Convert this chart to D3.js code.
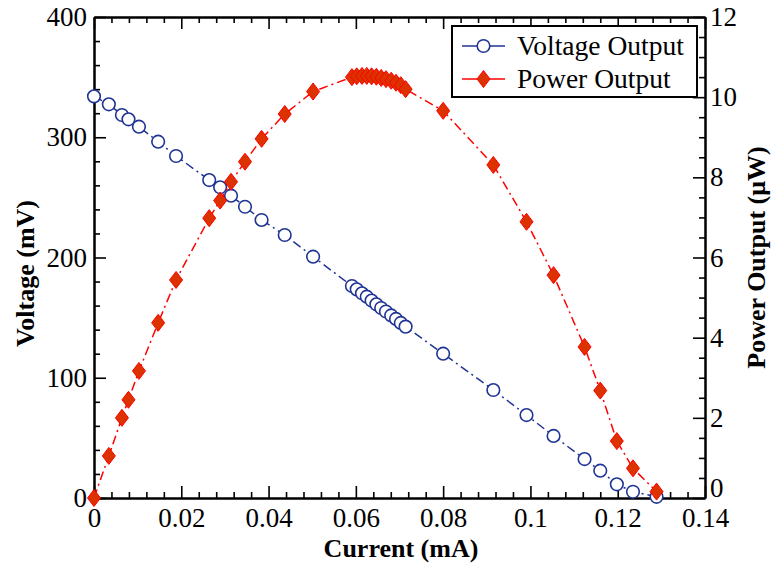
<!DOCTYPE html>
<html>
<head>
<meta charset="utf-8">
<script src="https://cdn.jsdelivr.net/npm/d3@7"></script>
<style>
  html, body { margin: 0; padding: 0; background: #fff; }
  svg { display: block; }
  svg text { font-family: "Liberation Serif", "Times New Roman", serif; }
</style>
</head>
<body>
<svg id="chart" width="772" height="563"></svg>
<script>
// Measured load sweep: current (mA), terminal voltage (mV), delivered power (µW)
const current = [
  0, 0.0034, 0.0064, 0.0079, 0.0103, 0.0147, 0.0188, 0.0264, 0.0289, 0.0314,
  0.0346, 0.0384, 0.0437, 0.0502,
  0.0591, 0.0602, 0.0614, 0.0625, 0.0636, 0.0647, 0.0658, 0.0669, 0.0681, 0.0692, 0.0703, 0.0714,
  0.0800, 0.0915, 0.0991, 0.1053, 0.1124, 0.1160, 0.1198, 0.1235, 0.1289
];
const voltage = [
  334, 327.4, 318.5, 314.9, 308.8, 296.3, 284.4, 264.4, 258.4, 251.4,
  242.2, 231.2, 218.7, 200.7,
  176.3, 173.5, 170.2, 167.4, 164.2, 161.1, 158.0, 155.1, 151.8, 148.9, 145.6, 142.5,
  120, 89.8, 69.0, 51.6, 32.4, 22.7, 11.4, 5.2, 1.0
];
const power = [
  0, 1.05, 2.0, 2.45, 3.17, 4.37, 5.44, 6.98, 7.42, 7.89,
  8.39, 8.96, 9.58, 10.14,
  10.50, 10.52, 10.53, 10.53, 10.52, 10.51, 10.48, 10.45, 10.41, 10.36, 10.30, 10.20,
  9.66, 8.31, 6.89, 5.56, 3.77, 2.68, 1.42, 0.74, 0.16
];

const xTicks = [0, 0.02, 0.04, 0.06, 0.08, 0.1, 0.12, 0.14];
const xTickLabels = ["0", "0.02", "0.04", "0.06", "0.08", "0.1", "0.12", "0.14"];
const vTicks = [0, 100, 200, 300, 400];
const pTicks = [0, 2, 4, 6, 8, 10, 12];
const seriesNames = ["Voltage Output", "Power Output"];

const FONT = '"Liberation Serif", "Times New Roman", serif';
const TICK_FS = 27;
const margin = { top: 17, right: 67, bottom: 65, left: 94 };
const W = 772, H = 563;
const iw = W - margin.left - margin.right;
const ih = H - margin.top - margin.bottom;

const blue = "#1f3494";
const red = "#ff0000";
const diamondFill = "#dc3200";

const svg = d3.select("#chart");
const g = svg.append("g").attr("transform", `translate(${margin.left},${margin.top})`);

const x = d3.scaleLinear().domain([0, 0.14]).range([0, iw]);
const yV = d3.scaleLinear().domain([0, 400]).range([ih, 0]);
const yP = d3.scaleLinear().domain([0, 12]).range([ih, 0]);

const fmt = d => xTickLabels[xTicks.indexOf(d)] ?? d3.format("~g")(d);
const xMinor = d3.range(0, 0.1401, 0.004).filter(v => !xTicks.some(t => Math.abs(t - v) < 1e-9));
const vMinor = d3.range(0, 401, 20).filter(v => v % 100 !== 0);
const pMinor = d3.range(0, 12.01, 0.5).filter(v => v % 2 !== 0);

function styleAxis(sel) {
  sel.attr("font-family", FONT).attr("font-size", TICK_FS);
  sel.select(".domain").attr("stroke", "#000").attr("stroke-width", 2);
  sel.selectAll(".tick line").attr("stroke", "#000").attr("stroke-width", 1.6);
  sel.selectAll(".tick text").attr("fill", "#000")
    .attr("font-family", FONT).attr("font-size", TICK_FS);
}

// bottom axis: major + minor ticks pointing inward
g.append("g").attr("transform", `translate(0,${ih})`)
  .call(d3.axisBottom(x).tickValues(xMinor).tickSize(-6).tickSizeOuter(0).tickFormat(""))
  .call(styleAxis);
g.append("g").attr("transform", `translate(0,${ih})`)
  .call(d3.axisBottom(x).tickValues(xTicks).tickSize(-12).tickSizeOuter(0).tickPadding(10).tickFormat(fmt))
  .call(styleAxis);
// top mirror axis
g.append("g")
  .call(d3.axisTop(x).tickValues(xMinor).tickSize(-6).tickSizeOuter(0).tickFormat(""))
  .call(styleAxis);
g.append("g")
  .call(d3.axisTop(x).tickValues(xTicks).tickSize(-12).tickSizeOuter(0).tickFormat(""))
  .call(styleAxis);
// left voltage axis
g.append("g")
  .call(d3.axisLeft(yV).tickValues(vMinor).tickSize(-6).tickSizeOuter(0).tickFormat(""))
  .call(styleAxis);
g.append("g")
  .call(d3.axisLeft(yV).tickValues(vTicks).tickSize(-12).tickSizeOuter(0).tickPadding(7).tickFormat(d3.format("d")))
  .call(styleAxis);
// right power axis
g.append("g").attr("transform", `translate(${iw},0)`)
  .call(d3.axisRight(yP).tickValues(pMinor).tickSize(-6).tickSizeOuter(0).tickFormat(""))
  .call(styleAxis);
const rightAxis = g.append("g").attr("transform", `translate(${iw},0)`)
  .call(d3.axisRight(yP).tickValues(pTicks).tickSize(-12).tickSizeOuter(0).tickPadding(5).tickFormat(d3.format("d")))
  .call(styleAxis);
// lift the right-hand zero so it clears the 0.14 label below it
rightAxis.selectAll(".tick text").filter(d => d === 0).attr("dy", "-0.05em");

// axis titles
const title = sel => sel.attr("text-anchor", "middle").attr("font-family", FONT)
  .attr("font-size", 26).attr("font-weight", "bold").attr("fill", "#000");
svg.append("text")
  .attr("x", 401).attr("y", 557)
  .call(title).text("Current (mA)");
svg.append("text")
  .attr("transform", `translate(34,${margin.top + ih / 2 + 16}) rotate(-90)`)
  .call(title).text("Voltage (mV)");
svg.append("text")
  .attr("transform", `translate(765,${margin.top + ih / 2}) rotate(-90)`)
  .call(title).text("Power Output (\u03bcW)");

const pts = current.map((c, i) => ({ c, v: voltage[i], p: power[i] }));
const dash = "9,4,2,4";

const diamond = (hw, hh) => `M0,${-hh}L${hw},0L0,${hh}L${-hw},0Z`;

// voltage series
g.append("path").datum(pts)
  .attr("fill", "none").attr("stroke", blue).attr("stroke-width", 1.5)
  .attr("stroke-dasharray", dash)
  .attr("d", d3.line().x(d => x(d.c)).y(d => yV(d.v)));
g.append("g").selectAll("circle").data(pts).join("circle")
  .attr("cx", d => x(d.c)).attr("cy", d => yV(d.v)).attr("r", 6.3)
  .attr("fill", "#fff").attr("stroke", blue).attr("stroke-width", 1.6);

// power series
g.append("path").datum(pts)
  .attr("fill", "none").attr("stroke", red).attr("stroke-width", 1.5)
  .attr("stroke-dasharray", dash)
  .attr("d", d3.line().x(d => x(d.c)).y(d => yP(d.p)));
g.append("g").selectAll("path").data(pts).join("path")
  .attr("transform", d => `translate(${x(d.c)},${yP(d.p)})`)
  .attr("d", diamond(6.5, 8.5))
  .attr("fill", diamondFill).attr("stroke", red).attr("stroke-width", 1);

// legend
const lg = svg.append("g");
lg.append("rect").attr("x", 452).attr("y", 26).attr("width", 245).attr("height", 71)
  .attr("fill", "#fff").attr("stroke", "#000").attr("stroke-width", 2);
const rows = [
  { name: seriesNames[0], y: 46, color: blue, mark: "circle" },
  { name: seriesNames[1], y: 79, color: red, mark: "diamond" }
];
rows.forEach(r => {
  lg.append("line").attr("x1", 462).attr("x2", 505).attr("y1", r.y).attr("y2", r.y)
    .attr("stroke", r.color).attr("stroke-width", 1.5);
  if (r.mark === "circle") {
    lg.append("circle").attr("cx", 483.5).attr("cy", r.y).attr("r", 6.3)
      .attr("fill", "#fff").attr("stroke", blue).attr("stroke-width", 1.6);
  } else {
    lg.append("path").attr("transform", `translate(483.5,${r.y})`).attr("d", diamond(6.5, 8.5))
      .attr("fill", diamondFill).attr("stroke", red).attr("stroke-width", 1);
  }
  lg.append("text").attr("x", 517).attr("y", r.y + 9)
    .attr("font-family", FONT).attr("font-size", 27.5).attr("fill", "#000").text(r.name);
});
</script>
</body>
</html>
